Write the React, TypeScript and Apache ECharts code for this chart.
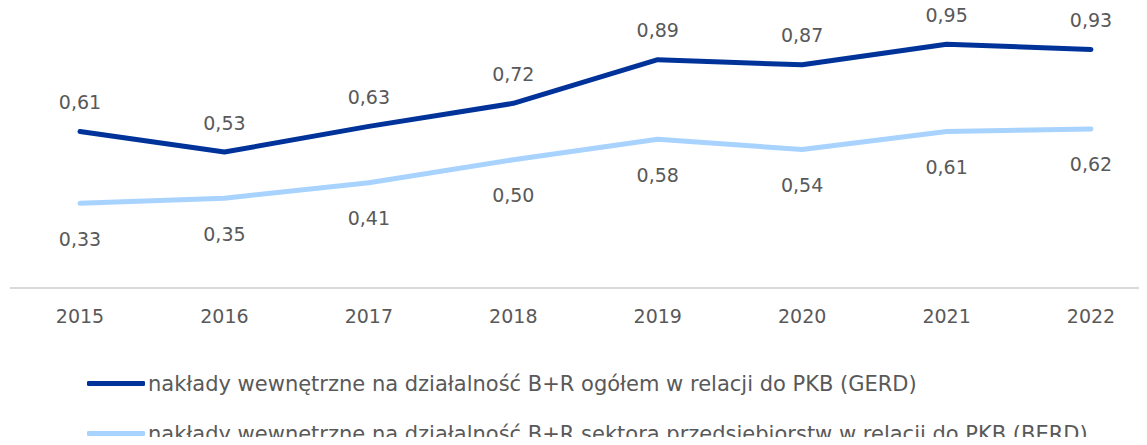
import React, { useEffect, useRef } from "react";
import * as echarts from "echarts";

const years = ["2015", "2016", "2017", "2018", "2019", "2020", "2021", "2022"];
const gerd = [0.61, 0.53, 0.63, 0.72, 0.89, 0.87, 0.95, 0.93];
const berd = [0.33, 0.35, 0.41, 0.5, 0.58, 0.54, 0.61, 0.62];
const gerdName = "nakłady wewnętrzne na działalność B+R ogółem w relacji do PKB (GERD)";
const berdName = "nakłady wewnętrzne na działalność B+R sektora przedsiębiorstw w relacji do PKB (BERD)";

const FONT = "DejaVu Sans";
const TEXT = "#595959";
const DARK = "#003399";
const LIGHT = "#A9D3FF";
const fmt = (p: any) => Number(p.value).toFixed(2).replace(".", ",");

export default function App() {
  const ref = useRef<HTMLDivElement>(null);
  useEffect(() => {
    const chart = echarts.init(ref.current!, null, { renderer: "svg" });
    chart.setOption({
      animation: false,
      textStyle: { fontFamily: FONT },
      grid: { left: 80, right: 56, top: 31.5, height: 256.5, containLabel: false },
      graphic: [
        {
          type: "line",
          shape: { x1: 10, y1: 288, x2: 1147, y2: 288 },
          style: { stroke: "#d9d9d9", lineWidth: 2 },
          z: 0,
        },
      ],
      xAxis: {
        type: "category",
        data: years,
        boundaryGap: false,
        axisLine: { show: false },
        axisTick: { show: false },
        axisLabel: { color: TEXT, fontSize: 19, margin: 18, fontFamily: FONT },
      },
      yAxis: {
        type: "value",
        min: 0,
        max: 1,
        show: false,
        splitLine: { show: false },
      },
      legend: {
        orient: "vertical",
        left: 82,
        top: 368,
        height: 150,
        itemGap: 29,
        itemWidth: 58,
        itemHeight: 5,
        icon: "roundRect",
        textStyle: { color: TEXT, fontSize: 21, fontFamily: FONT, padding: [0, 0, 0, -2] },
        data: [
          { name: gerdName, itemStyle: { color: DARK, opacity: 1 } },
          { name: berdName, itemStyle: { color: LIGHT, opacity: 1 } },
        ],
      },
      series: [
        {
          name: gerdName,
          type: "line",
          data: gerd,
          symbol: "circle",
          symbolSize: 0,
          showSymbol: true,
          color: DARK,
          lineStyle: { width: 5, color: DARK, cap: "round", join: "round" },
          label: { show: true, position: "top", distance: 20, color: TEXT, fontSize: 19, fontFamily: FONT, formatter: fmt },
        },
        {
          name: berdName,
          type: "line",
          data: berd,
          symbol: "circle",
          symbolSize: 0,
          showSymbol: true,
          color: LIGHT,
          lineStyle: { width: 5, color: LIGHT, cap: "round", join: "round" },
          label: { show: true, position: "bottom", distance: 26, color: TEXT, fontSize: 19, fontFamily: FONT, formatter: fmt },
        },
      ],
    });
    return () => chart.dispose();
  }, []);
  return <div ref={ref} style={{ width: 1147, height: 445, margin: -8, overflow: "hidden" }} />;
}
